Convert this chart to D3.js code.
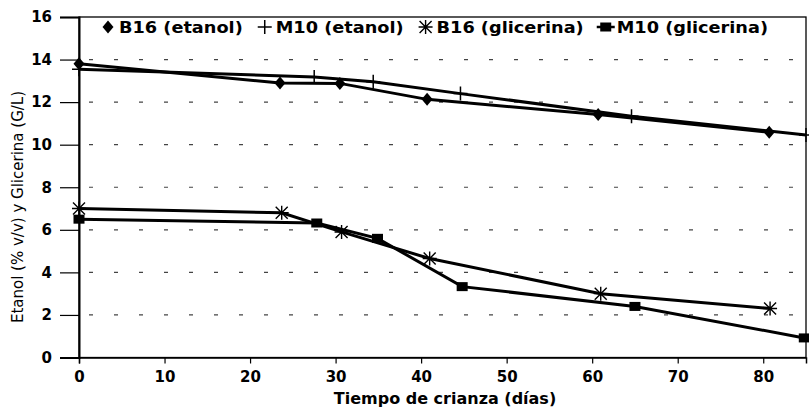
<!DOCTYPE html>
<html><head><meta charset="utf-8">
<script src="https://cdn.jsdelivr.net/npm/d3@7"></script>
<style>body{margin:0;background:#fff}svg{display:block}</style>
</head><body>
<svg id="c" width="809" height="409"></svg>
<script>
const seriesNames = ["B16 (etanol)", "M10 (etanol)", "B16 (glicerina)", "M10 (glicerina)"];
const b16EtanolX = [0, 23.5, 30.5, 40.7, 60.7, 80.7];
const b16EtanolY = [13.8, 12.9, 12.88, 12.13, 11.42, 10.58];
const m10EtanolX = [0, 27.5, 34.4, 44.6, 64.6, 85];
const m10EtanolY = [13.55, 13.18, 12.96, 12.4, 11.34, 10.45];
const b16GlicX = [0, 23.7, 30.7, 41, 61, 80.8];
const b16GlicY = [7.0, 6.8, 5.9, 4.65, 3.0, 2.3];
const m10GlicX = [0, 27.8, 34.9, 44.8, 65, 84.8];
const m10GlicY = [6.5, 6.32, 5.6, 3.33, 2.4, 0.92];
const xTicks = [0, 10, 20, 30, 40, 50, 60, 70, 80];
const yTicks = [0, 2, 4, 6, 8, 10, 12, 14, 16];
const xTitle = "Tiempo de crianza (días)";
const yTitle = "Etanol (% v/v) y Glicerina (G/L)";

const svg = d3.select("#c");
const L = 79, R = 806, T = 17, B = 357.5;
const x = d3.scaleLinear().domain([0, 85]).range([L, R]);
const y = d3.scaleLinear().domain([0, 16]).range([B, T]);
const font = "'DejaVu Sans', Verdana, sans-serif";

// gridlines
svg.append("g").selectAll("line").data(yTicks.filter(d => d > 0 && d < 16)).join("line")
  .attr("x1", L + 10).attr("x2", R - 6)
  .attr("y1", d => y(d)).attr("y2", d => y(d))
  .attr("stroke", "#444").attr("stroke-width", 1.2).attr("stroke-dasharray", "4 21");

// border
svg.append("rect").attr("x", L).attr("y", T).attr("width", R - L).attr("height", B - T)
  .attr("fill", "none").attr("stroke", "#000").attr("stroke-width", 1.3);

// axes
const yAxis = d3.axisLeft(y).tickValues(yTicks).tickSize(19).tickPadding(8);
const gy = svg.append("g").attr("transform", `translate(${L},0)`).call(yAxis);
gy.select(".domain").attr("stroke-width", 2);
gy.selectAll(".tick line").attr("stroke-width", 1.2);
gy.selectAll("text").attr("font-family", font).attr("font-weight", "bold").attr("font-size", 15);

const xAxis = d3.axisBottom(x).tickValues(xTicks).tickSize(6).tickPadding(8);
const gx = svg.append("g").attr("transform", `translate(0,${B})`).call(xAxis);
gx.select(".domain").attr("stroke-width", 1.5);
gx.selectAll(".tick line").attr("stroke-width", 1.2);
gx.selectAll("text").attr("font-family", font).attr("font-weight", "bold").attr("font-size", 15);

// titles
svg.append("text").attr("x", 445).attr("y", 404).attr("text-anchor", "middle")
  .attr("font-family", font).attr("font-weight", "bold").attr("font-size", 16).text(xTitle);
svg.append("text").attr("transform", `translate(23,207) rotate(-90)`)
  .attr("text-anchor", "middle").attr("font-family", font).attr("font-size", 15).text(yTitle);

const series = [
  {xs: b16EtanolX, ys: b16EtanolY, sym: "diamond"},
  {xs: m10EtanolX, ys: m10EtanolY, sym: "plus"},
  {xs: b16GlicX, ys: b16GlicY, sym: "asterisk"},
  {xs: m10GlicX, ys: m10GlicY, sym: "square"}
];
const line = d3.line().x(d => x(d[0])).y(d => y(d[1]));

function marker(g, sym, cx, cy) {
  if (sym === "diamond") {
    g.append("path").attr("d", `M${cx},${cy-6.5}L${cx+5.5},${cy}L${cx},${cy+6.5}L${cx-5.5},${cy}Z`).attr("fill", "#000");
  } else if (sym === "plus") {
    g.append("path").attr("d", `M${cx-7},${cy}H${cx+7}M${cx},${cy-7}V${cy+7}`).attr("stroke", "#000").attr("stroke-width", 1.5);
  } else if (sym === "asterisk") {
    g.append("path").attr("d", `M${cx-7},${cy}H${cx+7}M${cx},${cy-7}V${cy+7}M${cx-6},${cy-6}L${cx+6},${cy+6}M${cx-6},${cy+6}L${cx+6},${cy-6}`)
      .attr("stroke", "#000").attr("stroke-width", 1.4);
  } else {
    g.append("rect").attr("x", cx - 5.5).attr("y", cy - 4.5).attr("width", 11).attr("height", 9).attr("fill", "#000");
  }
}

const plot = svg.append("g");
series.forEach(s => {
  const pts = s.xs.map((v, i) => [v, s.ys[i]]);
  plot.append("path").attr("d", line(pts)).attr("fill", "none").attr("stroke", "#000").attr("stroke-width", 3);
  pts.forEach(p => marker(plot, s.sym, x(p[0]), y(p[1])));
});

// legend: measure, then stretch text horizontally so it ends near the right border
const leg = svg.append("g");
const legY = 27, legStart = 102, legEnd = 768, mGap = 11, gap = 16;
const texts = seriesNames.map(n => leg.append("text").attr("y", legY + 6).attr("font-family", font)
  .attr("font-weight", "bold").attr("font-size", 16).text(n));
const widths = texts.map(t => t.node().getComputedTextLength());
const sumW = widths.reduce((a, b) => a + b, 0);
const stretch = (legEnd - legStart - 6 - 4 * mGap - 3 * gap - 3 * 6) / sumW;
let cx = legStart + 6;
seriesNames.forEach((n, i) => {
  if (i === 3) {
    leg.append("line").attr("x1", cx - 9).attr("x2", cx + 9).attr("y1", legY).attr("y2", legY).attr("stroke", "#000").attr("stroke-width", 2.5);
  }
  marker(leg, series[i].sym, cx, legY);
  const w = widths[i] * stretch;
  texts[i].attr("x", cx + mGap).attr("textLength", w).attr("lengthAdjust", "spacingAndGlyphs");
  cx = cx + mGap + w + gap + 6;
});
</script>
</body></html>
